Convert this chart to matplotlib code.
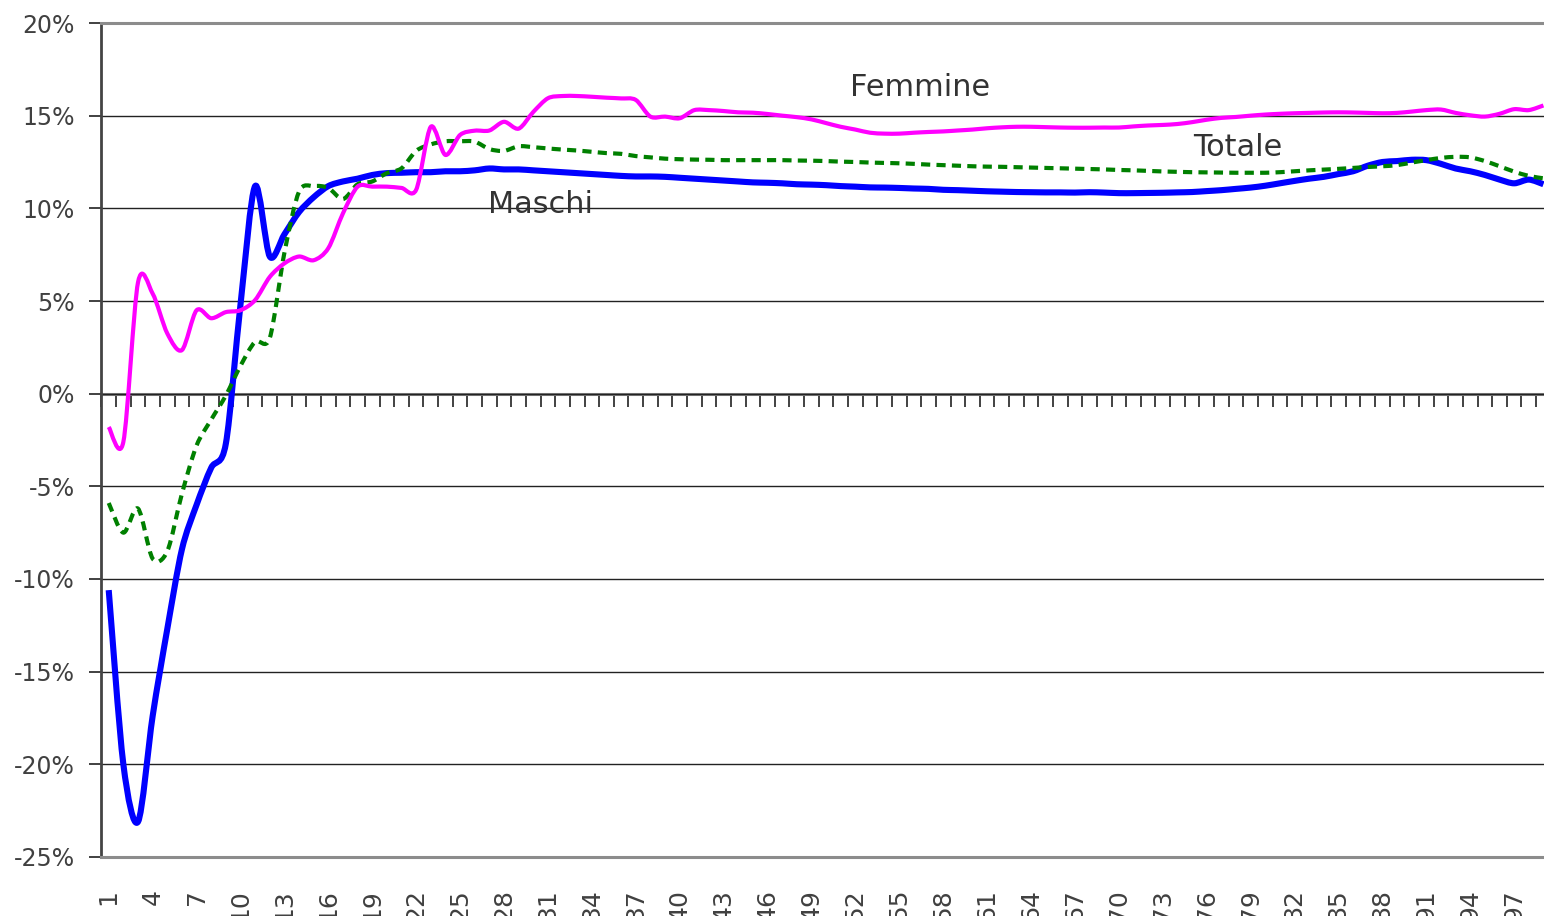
import numpy as np
import matplotlib
matplotlib.use('Agg')
import matplotlib.pyplot as plt
from matplotlib.path import Path
from matplotlib.patches import PathPatch

plt.rcParams['font.family'] = ['DejaVu Sans']

# categorie 1..99 (l'immagine taglia il grafico a destra)
categories = list(range(1, 100))
tick_labels = [str(c) for c in range(1, 100, 3)]

maschi = [
    -10.6, -20.0, -23.1, -17.4, -12.7, -8.4, -6.0, -4.0, -2.7, 4.8,
    11.2, 7.4, 8.6, 9.8, 10.6, 11.2, 11.45, 11.6, 11.8, 11.9,
    11.92, 11.95, 11.95, 12.0, 12.0, 12.05, 12.15, 12.1, 12.1, 12.05,
    12.0, 11.95, 11.9, 11.85, 11.8, 11.75, 11.72, 11.72, 11.7, 11.65,
    11.6, 11.55, 11.5, 11.45, 11.4, 11.38, 11.35, 11.3, 11.28, 11.25,
    11.2, 11.17, 11.13, 11.12, 11.1, 11.07, 11.05, 11.0, 10.98, 10.95,
    10.92, 10.9, 10.88, 10.87, 10.86, 10.86, 10.85, 10.87, 10.85, 10.82,
    10.82, 10.83, 10.84, 10.86, 10.88, 10.93, 10.98, 11.05, 11.12, 11.22,
    11.35, 11.48, 11.6, 11.7, 11.85, 12.0, 12.3, 12.5, 12.55, 12.62,
    12.6, 12.4, 12.15, 12.0, 11.8, 11.55, 11.35, 11.55, 11.3,
]

femmine = [
    -1.8, -2.6, 6.0, 5.4, 3.25, 2.35, 4.5, 4.07, 4.4, 4.5,
    5.05, 6.3, 7.03, 7.4, 7.2, 7.85, 9.73, 11.17, 11.17, 11.17,
    11.1, 11.0, 14.4, 12.88, 13.96, 14.19, 14.2, 14.67, 14.3, 15.2,
    15.94, 16.06, 16.06, 16.02, 15.97, 15.93, 15.85, 14.95, 14.95, 14.86,
    15.3, 15.3, 15.25, 15.18, 15.16, 15.09, 15.0, 14.92, 14.8, 14.6,
    14.4, 14.25, 14.08, 14.03, 14.03, 14.08, 14.12, 14.15, 14.2, 14.25,
    14.32, 14.37, 14.4, 14.4, 14.38, 14.36, 14.35, 14.35, 14.36, 14.36,
    14.42, 14.47, 14.5, 14.55, 14.65, 14.78, 14.88, 14.93, 15.0, 15.06,
    15.1, 15.13, 15.15, 15.17, 15.18, 15.17, 15.15, 15.13, 15.15, 15.22,
    15.3, 15.33, 15.15, 15.02, 14.95, 15.1, 15.35, 15.3, 15.55,
]

totale = [
    -5.9, -7.5, -6.2, -8.9, -8.5, -5.4, -2.8, -1.4, -0.1, 1.5,
    2.8, 3.0, 7.6, 10.9, 11.2, 11.1, 10.5, 11.3, 11.45, 11.9,
    12.16, 13.1, 13.45, 13.62, 13.62, 13.6, 13.2, 13.1, 13.35, 13.3,
    13.23, 13.17, 13.12, 13.05, 12.98, 12.94, 12.82, 12.75, 12.68, 12.65,
    12.63, 12.62, 12.6, 12.6, 12.6, 12.6, 12.6, 12.58, 12.57, 12.55,
    12.52, 12.5, 12.47, 12.45, 12.43, 12.4, 12.36, 12.33, 12.3, 12.27,
    12.25, 12.24, 12.22, 12.2, 12.18, 12.16, 12.14, 12.12, 12.1, 12.07,
    12.05, 12.02, 11.99, 11.97, 11.95, 11.94, 11.93, 11.92, 11.92, 11.92,
    11.95, 12.0, 12.05, 12.09, 12.13, 12.18, 12.23, 12.27, 12.33, 12.47,
    12.6, 12.72, 12.78, 12.75, 12.55, 12.27, 11.98, 11.75, 11.62,
]

labels = {"Femmine": (56.4, 16.5), "Totale": (78.1, 13.3), "Maschi": (30.5, 10.2)}


def smooth_path(x, y, k=0.15):
    # curva liscia tipo Excel (Bezier per i punti dati)
    pts = np.column_stack([x, y]).astype(float)
    n = len(pts)
    verts = [pts[0]]
    codes = [Path.MOVETO]
    for i in range(n - 1):
        p0 = pts[max(i - 1, 0)]
        p1 = pts[i]
        p2 = pts[i + 1]
        p3 = pts[min(i + 2, n - 1)]
        verts += [p1 + (p2 - p0) * k, p2 - (p3 - p1) * k, p2]
        codes += [Path.CURVE4] * 3
    return Path(verts, codes)


fig = plt.figure(figsize=(15.44, 9.16), dpi=100)
ax = fig.add_axes([101.4 / 1544, 59 / 916, 1 - 101.4 / 1544, 834 / 916])
ax.set_xlim(0.5, 0.5 + (1544 - 101.4) / 14.64)
ax.set_ylim(-25, 20)

text_col = '#404040'

# griglia orizzontale
ax.set_yticks(range(-25, 21, 5))
ax.set_yticklabels([f"{v}%" for v in range(-25, 21, 5)])
ax.grid(axis='y', color='#222222', linewidth=1.0)
ax.grid(axis='x', visible=False)
ax.tick_params(axis='y', direction='out', length=9, width=1.3, color='#333333',
               labelsize=17, labelcolor=text_col, pad=10)

ax.spines['right'].set_visible(False)
ax.spines['left'].set_color('#444444')
ax.spines['left'].set_linewidth(2)
ax.spines['top'].set_color('#8c8c8c')
ax.spines['top'].set_linewidth(2.2)
ax.spines['bottom'].set_color('#8c8c8c')
ax.spines['bottom'].set_linewidth(2.2)

# etichette categorie in basso
ax.set_xticks(categories[::3])
ax.set_xticklabels(tick_labels, rotation=90)
ax.tick_params(axis='x', length=0, labelsize=18, labelcolor=text_col, pad=23)

# asse delle categorie sullo zero con tacche verso il basso
zero_ax = ax.secondary_xaxis(25 / 45)
zero_ax.set_xticks([c + 0.5 for c in [0] + categories])
zero_ax.set_xticklabels([])
zero_ax.tick_params(axis='x', direction='in', length=9, width=1.3, color='#333333')
for sp in zero_ax.spines.values():
    sp.set_color('#808080')
    sp.set_linewidth(2.2)

series = [
    (maschi, '#0000ff', 4.4, '-'),
    (totale, '#008000', 3.0, (0, (2.2, 1.5))),
    (femmine, '#ff00ff', 3.0, '-'),
]
for vals, col, lw, ls in series:
    patch = PathPatch(smooth_path(categories, vals), fill=False, edgecolor=col,
                      linewidth=lw, linestyle=ls, joinstyle='round',
                      capstyle='butt', zorder=3)
    ax.add_patch(patch)

for name, (xv, yv) in labels.items():
    ax.text(xv, yv, name, fontsize=21.8, color='#333333', ha='center', va='center')

fig.savefig('out.png', dpi=100)
